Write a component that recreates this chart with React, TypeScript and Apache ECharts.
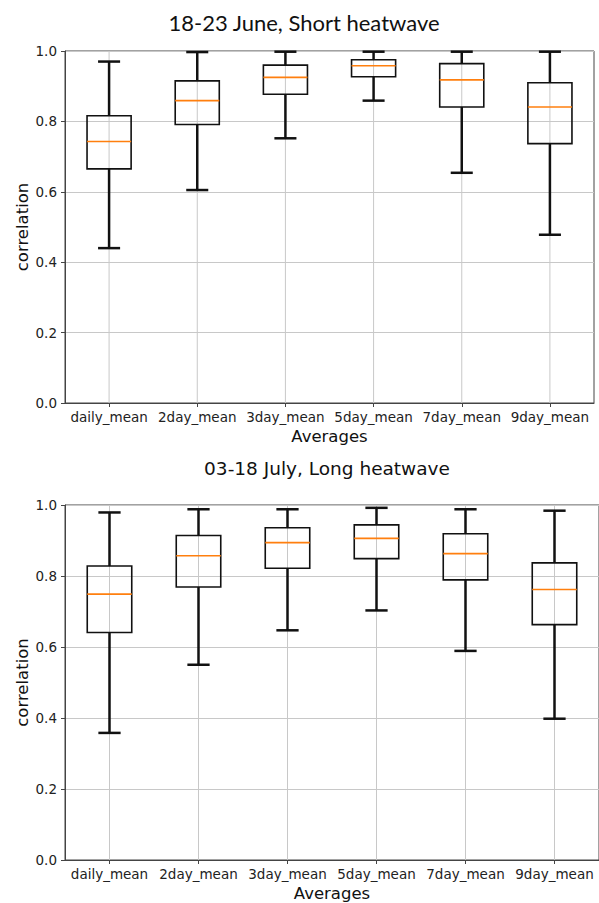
import React, { useEffect, useRef } from "react";
import * as echarts from "echarts";

const categories = ["daily_mean", "2day_mean", "3day_mean", "5day_mean", "7day_mean", "9day_mean"];
const yTicks = [0, 0.2, 0.4, 0.6, 0.8, 1.0];

const topTitle = "18-23 June, Short heatwave";
const juneLow = [0.44, 0.605, 0.752, 0.859, 0.654, 0.478];
const juneQ1 = [0.665, 0.791, 0.877, 0.927, 0.841, 0.737];
const juneMedian = [0.743, 0.859, 0.925, 0.958, 0.918, 0.841];
const juneQ3 = [0.816, 0.915, 0.96, 0.975, 0.964, 0.91];
const juneHigh = [0.97, 0.997, 0.998, 0.998, 0.998, 0.998];

const bottomTitle = "03-18 July, Long heatwave";
const julyLow = [0.358, 0.55, 0.647, 0.703, 0.589, 0.398];
const julyQ1 = [0.641, 0.769, 0.822, 0.849, 0.789, 0.663];
const julyMedian = [0.749, 0.857, 0.894, 0.906, 0.863, 0.762];
const julyQ3 = [0.828, 0.914, 0.936, 0.944, 0.919, 0.837];
const julyHigh = [0.979, 0.988, 0.988, 0.992, 0.988, 0.984];

const FONT = "DejaVu Sans";

function buildData(low: number[], q1: number[], med: number[], q3: number[], high: number[]) {
  return categories.map((_, i) => [i, low[i], q1[i], med[i], q3[i], high[i]]);
}

function renderBox(params: any, api: any) {
  const x = api.value(0);
  const pLow = api.coord([x, api.value(1)]);
  const pQ1 = api.coord([x, api.value(2)]);
  const pMed = api.coord([x, api.value(3)]);
  const pQ3 = api.coord([x, api.value(4)]);
  const pHigh = api.coord([x, api.value(5)]);
  const pTop = api.coord([x, 1]);
  const pBottom = api.coord([x, 0]);
  const w = api.size([1, 0])[0];
  const bw = w * 0.5;
  const cw = w * 0.25;
  const cx = pLow[0];
  const black = "#111";
  return {
    type: "group",
    children: [
      { type: "line", silent: true, shape: { x1: cx, y1: pTop[1], x2: cx, y2: pBottom[1] }, style: { stroke: "#c8c8c8", lineWidth: 1 } },
      { type: "line", shape: { x1: cx, y1: pQ1[1], x2: cx, y2: pLow[1] }, style: { stroke: black, lineWidth: 2.5 } },
      { type: "line", shape: { x1: cx, y1: pQ3[1], x2: cx, y2: pHigh[1] }, style: { stroke: black, lineWidth: 2.5 } },
      { type: "line", shape: { x1: cx - cw / 2, y1: pLow[1], x2: cx + cw / 2, y2: pLow[1] }, style: { stroke: black, lineWidth: 2.5 } },
      { type: "line", shape: { x1: cx - cw / 2, y1: pHigh[1], x2: cx + cw / 2, y2: pHigh[1] }, style: { stroke: black, lineWidth: 2.5 } },
      { type: "rect", shape: { x: cx - bw / 2, y: pQ3[1], width: bw, height: pQ1[1] - pQ3[1] }, style: { fill: "none", stroke: black, lineWidth: 1.6 } },
      { type: "line", shape: { x1: cx - bw / 2, y1: pMed[1], x2: cx + bw / 2, y2: pMed[1] }, style: { stroke: "#ff7f0e", lineWidth: 1.6 } },
    ],
  };
}

function xAxisCfg(gridIndex: number) {
  return {
    type: "category",
    gridIndex,
    data: categories,
    boundaryGap: true,
    name: "Averages",
    nameLocation: "middle",
    nameGap: 25,
    nameTextStyle: { fontFamily: FONT, fontSize: 16.5, color: "#111", verticalAlign: "top" },
    axisLine: { show: true, lineStyle: { color: "#444", width: 1 } },
    axisTick: { show: true, alignWithLabel: true, length: 4, lineStyle: { color: "#444", width: 1 } },
    axisLabel: { fontFamily: FONT, fontSize: 13.5, color: "#222", margin: 7, interval: 0 },
    splitLine: { show: false },
  };
}

function yAxisCfg(gridIndex: number) {
  return {
    type: "value",
    gridIndex,
    min: 0,
    max: 1,
    interval: 0.2,
    name: "correlation",
    nameLocation: "middle",
    nameRotate: 90,
    nameGap: 34,
    nameMoveOverlap: false,
    nameTextStyle: { fontFamily: FONT, fontSize: 16.5, color: "#111" },
    axisLine: { show: true, lineStyle: { color: "#444", width: 1 } },
    axisTick: { show: true, length: 4, lineStyle: { color: "#444", width: 1 } },
    axisLabel: {
      fontFamily: FONT,
      fontSize: 13.5,
      color: "#222",
      margin: 8,
      formatter: (v: number) => {
        const t = yTicks.find((k) => Math.abs(k - v) < 1e-9);
        return (t !== undefined ? t : v).toFixed(1);
      },
    },
    splitLine: { show: true, lineStyle: { color: "#c8c8c8", width: 1 } },
  };
}

export default function App() {
  const ref = useRef<HTMLDivElement>(null);
  useEffect(() => {
    if (!ref.current) return;
    const chart = echarts.init(ref.current, null, { renderer: "svg" });
    chart.setOption({
      animation: false,
      backgroundColor: "#ffffff",
      title: [
        {
          text: topTitle,
          left: 299,
          top: 6,
          textAlign: "center",
          textStyle: { fontFamily: "Lato", fontSize: 22, fontWeight: "normal", color: "#111" },
        },
        {
          text: bottomTitle,
          left: 322,
          top: 454,
          textAlign: "center",
          textStyle: { fontFamily: FONT, fontSize: 18.5, fontWeight: "normal", color: "#111" },
        },
      ],
      grid: [
        { left: 65, top: 51, width: 529, height: 352, show: true, borderColor: "#444", borderWidth: 1, backgroundColor: "transparent" },
        { left: 65, top: 505, width: 537, height: 355, show: true, borderColor: "#444", borderWidth: 1, backgroundColor: "transparent" },
      ],
      xAxis: [xAxisCfg(0), xAxisCfg(1)],
      yAxis: [yAxisCfg(0), yAxisCfg(1)],
      series: [
        {
          type: "custom",
          name: "June",
          xAxisIndex: 0,
          yAxisIndex: 0,
          renderItem: renderBox,
          encode: { x: 0, y: [1, 2, 3, 4, 5] },
          data: buildData(juneLow, juneQ1, juneMedian, juneQ3, juneHigh),
          clip: false,
        },
        {
          type: "custom",
          name: "July",
          xAxisIndex: 1,
          yAxisIndex: 1,
          renderItem: renderBox,
          encode: { x: 0, y: [1, 2, 3, 4, 5] },
          data: buildData(julyLow, julyQ1, julyMedian, julyQ3, julyHigh),
          clip: false,
        },
      ],
    });
    return () => chart.dispose();
  }, []);
  return <div ref={ref} style={{ position: "absolute", left: 0, top: 0, width: 599, height: 903 }} />;
}
